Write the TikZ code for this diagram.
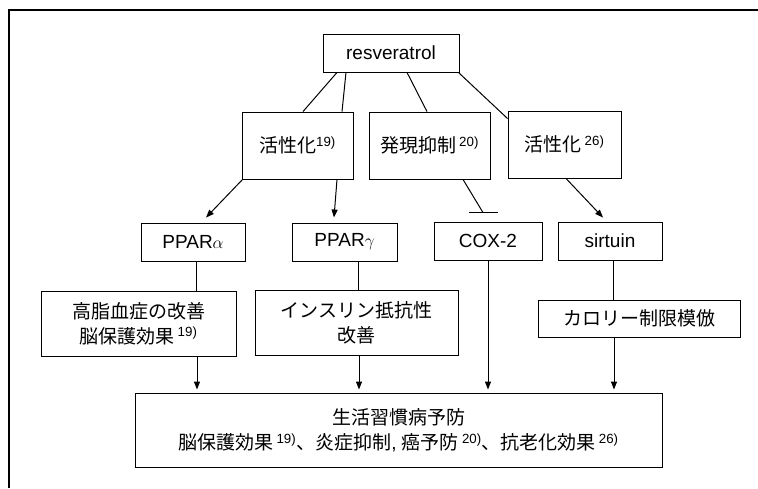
\documentclass[tikz,border=0pt]{standalone}
\usepackage{fontspec}
\setmainfont{Liberation Sans}
\newfontfamily\jp{Noto Sans CJK JP}
\usetikzlibrary{arrows.meta,calc}
\begin{document}
\begin{tikzpicture}[x=1pt,y=-1pt,
  every node/.style={inner sep=0pt},
  box/.style={draw,line width=0.9pt,align=center,font=\fontsize{19}{25}\selectfont},
  conn/.style={line width=1pt},
  arr/.style={conn,-{Triangle[length=8pt,width=6pt]}},
  sups/.style={}]
\useasboundingbox (0,0) rectangle (758,488);
\draw[line width=1.2pt] (9,488) -- (9,10) -- (758,10);

\node[box,minimum width=136pt,minimum height=38pt] (res) at (391,53) {resveratrol};
\node[box,minimum width=111pt,minimum height=67pt] (act1) at (297.5,145.5) {{\jp 活性化}\textsuperscript{19)}};
\node[box,minimum width=121pt,minimum height=67pt] (supp) at (429.5,145.5) {{\jp 発現抑制}\,\textsuperscript{20)}};
\node[box,minimum width=113pt,minimum height=67pt] (act2) at (564.5,144.5) {{\jp 活性化}\,\textsuperscript{26)}};

\node[box,minimum width=104pt,minimum height=38pt] (ppara) at (193,242) {PPAR$\alpha$};
\node[box,minimum width=105pt,minimum height=38pt] (pparg) at (344.5,242) {PPAR$\gamma$};
\node[box,minimum width=108pt,minimum height=38pt] (cox) at (488,241) {COX-2};
\node[box,minimum width=104pt,minimum height=38pt] (sirt) at (610,241) {sirtuin};

\node[box,minimum width=195pt,minimum height=65pt] (hyper) at (138.5,323.5) {{\jp 高脂血症の改善}\\{\jp 脳保護効果}\,\textsuperscript{19)}};
\node[box,minimum width=203pt,minimum height=65pt] (ins) at (356.5,322.5) {{\jp インスリン抵抗性}\\{\jp 改善}};
\node[box,minimum width=202pt,minimum height=37pt] (cal) at (639,318.5) {{\jp カロリー制限模倣}};

\node[box,minimum width=527pt,minimum height=74pt] (bot) at (398.5,430) {{\jp 生活習慣病予防}\\{\jp 脳保護効果}\,\textsuperscript{19)}{\jp 、炎症抑制}, {\jp 癌予防}\,\textsuperscript{20)}{\jp 、抗老化効果}\,\textsuperscript{26)}};

% resveratrol to middle boxes
\draw[conn] ([xshift=-54pt]res.south) -- ([xshift=5.5pt]act1.north);
\draw[conn] ([xshift=-45pt]res.south) -- ([xshift=44.5pt]act1.north);
\draw[conn] ([xshift=16pt]res.south) -- ([xshift=-2.5pt]supp.north);
\draw[conn] ([xshift=-1pt]res.south east) -- ([yshift=-8pt]act2.north west);

% to second row
\draw[arr] ([xshift=1pt]act1.south west) -- ([xshift=13pt,yshift=5pt]ppara.north);
\draw[arr] ([xshift=39.5pt]act1.south) -- ([xshift=-10.5pt,yshift=5pt]pparg.north);
\coordinate (inh) at ([xshift=-5pt,yshift=9pt]cox.north);
\draw[conn] ([xshift=33.5pt]supp.south) -- (inh);
\draw[conn] ([xshift=-14pt]inh) -- ([xshift=15pt]inh);
\draw[arr] ([xshift=1.5pt]act2.south) -- ([xshift=-7pt,yshift=4pt]sirt.north);

% to effect boxes
\draw[conn] ([xshift=3pt]ppara.south) -- ([xshift=3pt]ppara.south |- hyper.north);
\draw[conn] ([xshift=13.5pt]pparg.south) -- ([xshift=13.5pt]pparg.south |- ins.north);
\draw[conn] ([xshift=3pt]sirt.south) -- ([xshift=3pt]sirt.south |- cal.north);

% to bottom
\draw[arr,shorten >=3pt] ([xshift=58.5pt]hyper.south) -- ([xshift=58.5pt]hyper.south |- bot.north);
\draw[arr,shorten >=3pt] ([xshift=2.5pt]ins.south) -- ([xshift=2.5pt]ins.south |- bot.north);
\draw[arr,shorten >=3pt] (cox.south) -- (cox.south |- bot.north);
\draw[arr,shorten >=3pt] ([xshift=-25pt]cal.south) -- ([xshift=-25pt]cal.south |- bot.north);
\end{tikzpicture}
\end{document}
